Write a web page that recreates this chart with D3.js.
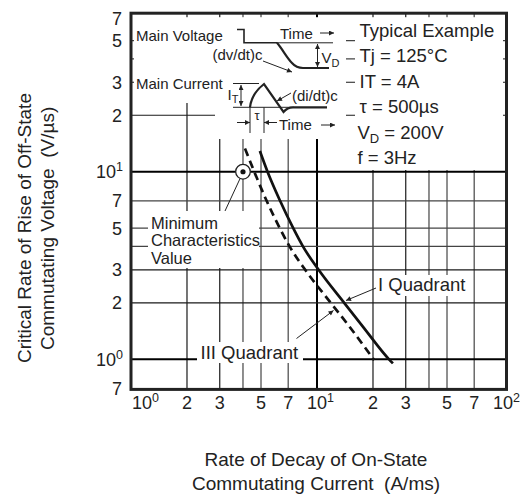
<!DOCTYPE html>
<html>
<head>
<meta charset="utf-8">
<script src="https://cdn.jsdelivr.net/npm/d3@7"></script>
<style>
    body { margin: 0; background: #fff; }
    svg text { font-family: "Liberation Sans", Arial, sans-serif; fill: #222; }
</style>
</head>
<body>
<svg id="chart" width="529" height="499"></svg>
<script>
// data
var xTickValues = [1, 2, 3, 5, 7, 10, 20, 30, 50, 70, 100];
var yTickValues = [0.7, 1, 2, 3, 5, 7, 10, 20, 30, 50, 70];
var xGridValues = [2, 3, 4, 5, 7, 10, 20, 30, 40, 50, 70];
var yGridValues = [1, 2, 3, 4, 5, 7, 10, 20, 30, 40, 50];

var quadIx = [4.93, 5.42, 6.33, 7.45, 8.4, 10.2, 14.0, 17.6, 24.4, 25.6];
var quadIy = [12.9, 10, 7, 5, 4, 3, 2, 1.5, 1, 0.952];
var quadIIIx = [4.10, 4.60, 5.36, 6.31, 7.12, 8.64, 11.86, 14.9, 20.3];
var quadIIIy = [13.3, 10, 7, 5, 4, 3, 2, 1.5, 0.99];

var minPointX = 4, minPointY = 10;

var conditionText = ["Typical Example", "Tj = 125°C", "IT = 4A", "τ = 500µs", "V", "f = 3Hz"];

var svg = d3.select("#chart");

var x = d3.scaleLog().domain([1, 100]).range([131, 503]);
var y = d3.scaleLog().domain([0.7, 70]).range([388.4, 13.2]);

function mant(d) {
    return Math.round(d / Math.pow(10, Math.floor(Math.log10(d) + 1e-9)));
}
function gridColor(d) {
    var m = mant(d);
    if (m == 1) return "#000";
    if (m <= 3) return "#1a1a1a";
    return "#444";
}
function gridWidth(d) {
    return mant(d) == 1 ? 2 : 1.2;
}

// arrow marker
var defs = svg.append("defs");
defs.append("marker")
    .attr("id", "arr")
    .attr("viewBox", "0 0 10 10")
    .attr("refX", 10).attr("refY", 5)
    .attr("markerUnits", "userSpaceOnUse")
    .attr("markerWidth", 7).attr("markerHeight", 5)
    .attr("orient", "auto-start-reverse")
    .append("path")
    .attr("d", "M0,0 L10,5 L0,10 Z")
    .attr("fill", "#222");

// grid
var grid = svg.append("g");
grid.selectAll(".vg").data(xGridValues).enter().append("line")
    .attr("x1", function (d) { return x(d); })
    .attr("x2", function (d) { return x(d); })
    .attr("y1", y(70)).attr("y2", y(0.7))
    .attr("stroke", gridColor).attr("stroke-width", gridWidth);
grid.selectAll(".hg").data(yGridValues).enter().append("line")
    .attr("y1", function (d) { return y(d); })
    .attr("y2", function (d) { return y(d); })
    .attr("x1", x(1)).attr("x2", x(100) + 3)
    .attr("stroke", gridColor).attr("stroke-width", gridWidth);

// white areas behind the inset diagram, the conditions and the labels
var masks = [
    [x(1) + 3, y(70) + 4, 346, 103],
    [215, 100, 346, 139],
    [355, y(70) + 4, x(100), 170],
    [148, 211, 259, 268],
    [375, 275, 470, 296],
    [197, 342, 303, 363]
];
svg.append("g").selectAll("rect").data(masks).enter().append("rect")
    .attr("x", function (d) { return d[0]; })
    .attr("y", function (d) { return d[1]; })
    .attr("width", function (d) { return d[2] - d[0]; })
    .attr("height", function (d) { return d[3] - d[1]; })
    .attr("fill", "#fff");

// frame
svg.append("rect")
    .attr("x", x(1)).attr("y", y(70))
    .attr("width", x(100) + 3.5 - x(1))
    .attr("height", y(0.7) + 1 - y(70))
    .attr("fill", "none").attr("stroke", "#222").attr("stroke-width", 3);

// curves
var line = d3.line()
    .x(function (d) { return x(d[0]); })
    .y(function (d) { return y(d[1]); })
    .curve(d3.curveMonotoneX);

svg.append("path")
    .datum(d3.zip(quadIx, quadIy))
    .attr("d", line)
    .attr("fill", "none").attr("stroke", "#111").attr("stroke-width", 2.7);

svg.append("path")
    .datum(d3.zip(quadIIIx, quadIIIy))
    .attr("d", line)
    .attr("fill", "none").attr("stroke", "#111").attr("stroke-width", 2.7)
    .attr("stroke-dasharray", "8,5");

// minimum characteristics marker
svg.append("line")
    .attr("x1", 225).attr("y1", 211)
    .attr("x2", x(minPointX) - 3).attr("y2", y(minPointY) + 7)
    .attr("stroke", "#222").attr("stroke-width", 1);
svg.append("circle")
    .attr("cx", x(minPointX)).attr("cy", y(minPointY)).attr("r", 7.3)
    .attr("fill", "#fff").attr("stroke", "#222").attr("stroke-width", 1.3);
svg.append("circle")
    .attr("cx", x(minPointX)).attr("cy", y(minPointY)).attr("r", 2.6)
    .attr("fill", "#111");

["Minimum", "Characteristics", "Value"].forEach(function (t, i) {
    svg.append("text").attr("x", 151).attr("y", 228.5 + i * 17.5)
        .style("font-size", "16.5px").text(t);
});

// quadrant labels
svg.append("text").attr("x", 378).attr("y", 291)
    .style("font-size", "18.5px").text("I Quadrant");
svg.append("line")
    .attr("x1", 376).attr("y1", 288).attr("x2", 346).attr("y2", 300.5)
    .attr("stroke", "#222").attr("stroke-width", 1).attr("marker-end", "url(#arr)");
svg.append("text").attr("x", 200.5).attr("y", 358.5)
    .style("font-size", "18.5px").text("III Quadrant");
svg.append("line")
    .attr("x1", 296.5).attr("y1", 338.5).attr("x2", 333.5).attr("y2", 310.5)
    .attr("stroke", "#222").attr("stroke-width", 1).attr("marker-end", "url(#arr)");

// inset: waveform sketch
var inset = svg.append("g").attr("fill", "none").attr("stroke", "#222");
function seg(d, w, marker, markerStart) {
    var p = inset.append("path").attr("d", d).attr("stroke-width", w);
    if (marker) p.attr("marker-end", "url(#arr)");
    if (markerStart) p.attr("marker-start", "url(#arr)");
    return p;
}
// voltage
seg("M237,29.5 H244 V42.8 H277", 1.6);
seg("M277,42.8 H333", 1);
seg("M277,42.8 C283,50 287,58 292,63 C295,66.5 298,68 303,68 H329", 2.2);
seg("M317.5,44 V67", 1, true, true);
seg("M263,61 L292,72", 1, true);
seg("M320,33 H334", 1, true);
// current
seg("M233,83.5 H259", 1);
seg("M233,107.3 H294", 1);
seg("M250,107.3 C251,99 255,91 264,84 L283.5,112 C286,109 288,107.3 293,107.3 H327", 2.2);
seg("M241,85 V106", 1, true, true);
seg("M250,107.3 V133 M264,107.3 V133", 1);
seg("M237,122.5 H250", 1, true);
seg("M277,122.5 H264", 1, true);
seg("M291,93 L277,101", 1, true);
seg("M321,125 H335", 1, true);

function label(t, px, py, size) {
    return svg.append("text").attr("x", px).attr("y", py).style("font-size", size + "px").text(t);
}
label("Main Voltage", 136, 41, 15);
label("(dv/dt)c", 212.5, 60, 15);
label("Time", 280, 38.5, 15);
label("Main Current", 136, 88.5, 15);
var it = label("I", 227.5, 100, 15);
it.append("tspan").attr("dy", 3).style("font-size", "11px").text("T");
var vd = label("V", 321.5, 63, 15);
vd.append("tspan").attr("dy", 3.5).style("font-size", "11px").text("D");
label("(di/dt)c", 292, 101, 15);
label("τ", 257, 120, 13).attr("text-anchor", "middle");
label("Time", 279, 130, 15);

// test conditions
svg.append("g").selectAll("text").data(conditionText).enter().append("text")
    .attr("x", function (d, i) { return i < 4 ? 359.5 : 357.5; })
    .attr("y", function (d, i) { return 37 + i * 25.4; })
    .style("font-size", "18.5px")
    .each(function (d) {
        var t = d3.select(this);
        if (d == "V") {
            t.append("tspan").text("V");
            t.append("tspan").attr("dy", 4).style("font-size", "13px").text("D");
            t.append("tspan").attr("dy", -4).text(" = 200V");
        } else {
            t.text(d);
        }
    });

// tick labels
function isDecade(d) { return mant(d) == 1; }
function expOf(d) { return Math.round(Math.log10(d)); }

var yl = svg.append("g").selectAll("text").data(yTickValues).enter().append("text")
    .attr("x", function (d) { return isDecade(d) ? 123 : 122; })
    .attr("y", function (d) { return Math.max(y(d), 18) + 6.5; })
    .attr("text-anchor", "end")
    .style("font-size", "18px");
yl.each(function (d) {
    var t = d3.select(this);
    if (isDecade(d)) {
        t.append("tspan").text("10");
        t.append("tspan").attr("dy", -7).style("font-size", "12.5px").text(expOf(d));
    } else {
        t.text(mant(d));
    }
});

var xl = svg.append("g").selectAll("text").data(xTickValues).enter().append("text")
    .attr("x", function (d) {
        if (d == 1) return x(d) + 1;
        return isDecade(d) ? x(d) - 10 : x(d);
    })
    .attr("y", 408.5)
    .attr("text-anchor", function (d) { return isDecade(d) ? "start" : "middle"; })
    .style("font-size", "18px");
xl.each(function (d) {
    var t = d3.select(this);
    if (isDecade(d)) {
        t.append("tspan").text("10");
        t.append("tspan").attr("dy", -7).style("font-size", "12.5px").text(expOf(d));
    } else {
        t.text(mant(d));
    }
});

// axis titles
svg.append("text")
    .attr("transform", "translate(31,363) rotate(-90)")
    .style("font-size", "19px")
    .text("Critical Rate of Rise of Off-State");
svg.append("text")
    .attr("transform", "translate(54,350) rotate(-90)")
    .style("font-size", "19px")
    .attr("xml:space", "preserve")
    .text("Commutating Voltage  (V/µs)");

svg.append("text")
    .attr("x", 316).attr("y", 466)
    .attr("text-anchor", "middle")
    .style("font-size", "19px")
    .text("Rate of Decay of On-State");
svg.append("text")
    .attr("x", 316).attr("y", 490)
    .attr("text-anchor", "middle")
    .style("font-size", "19px")
    .attr("xml:space", "preserve")
    .text("Commutating Current  (A/ms)");
</script>
</body>
</html>
